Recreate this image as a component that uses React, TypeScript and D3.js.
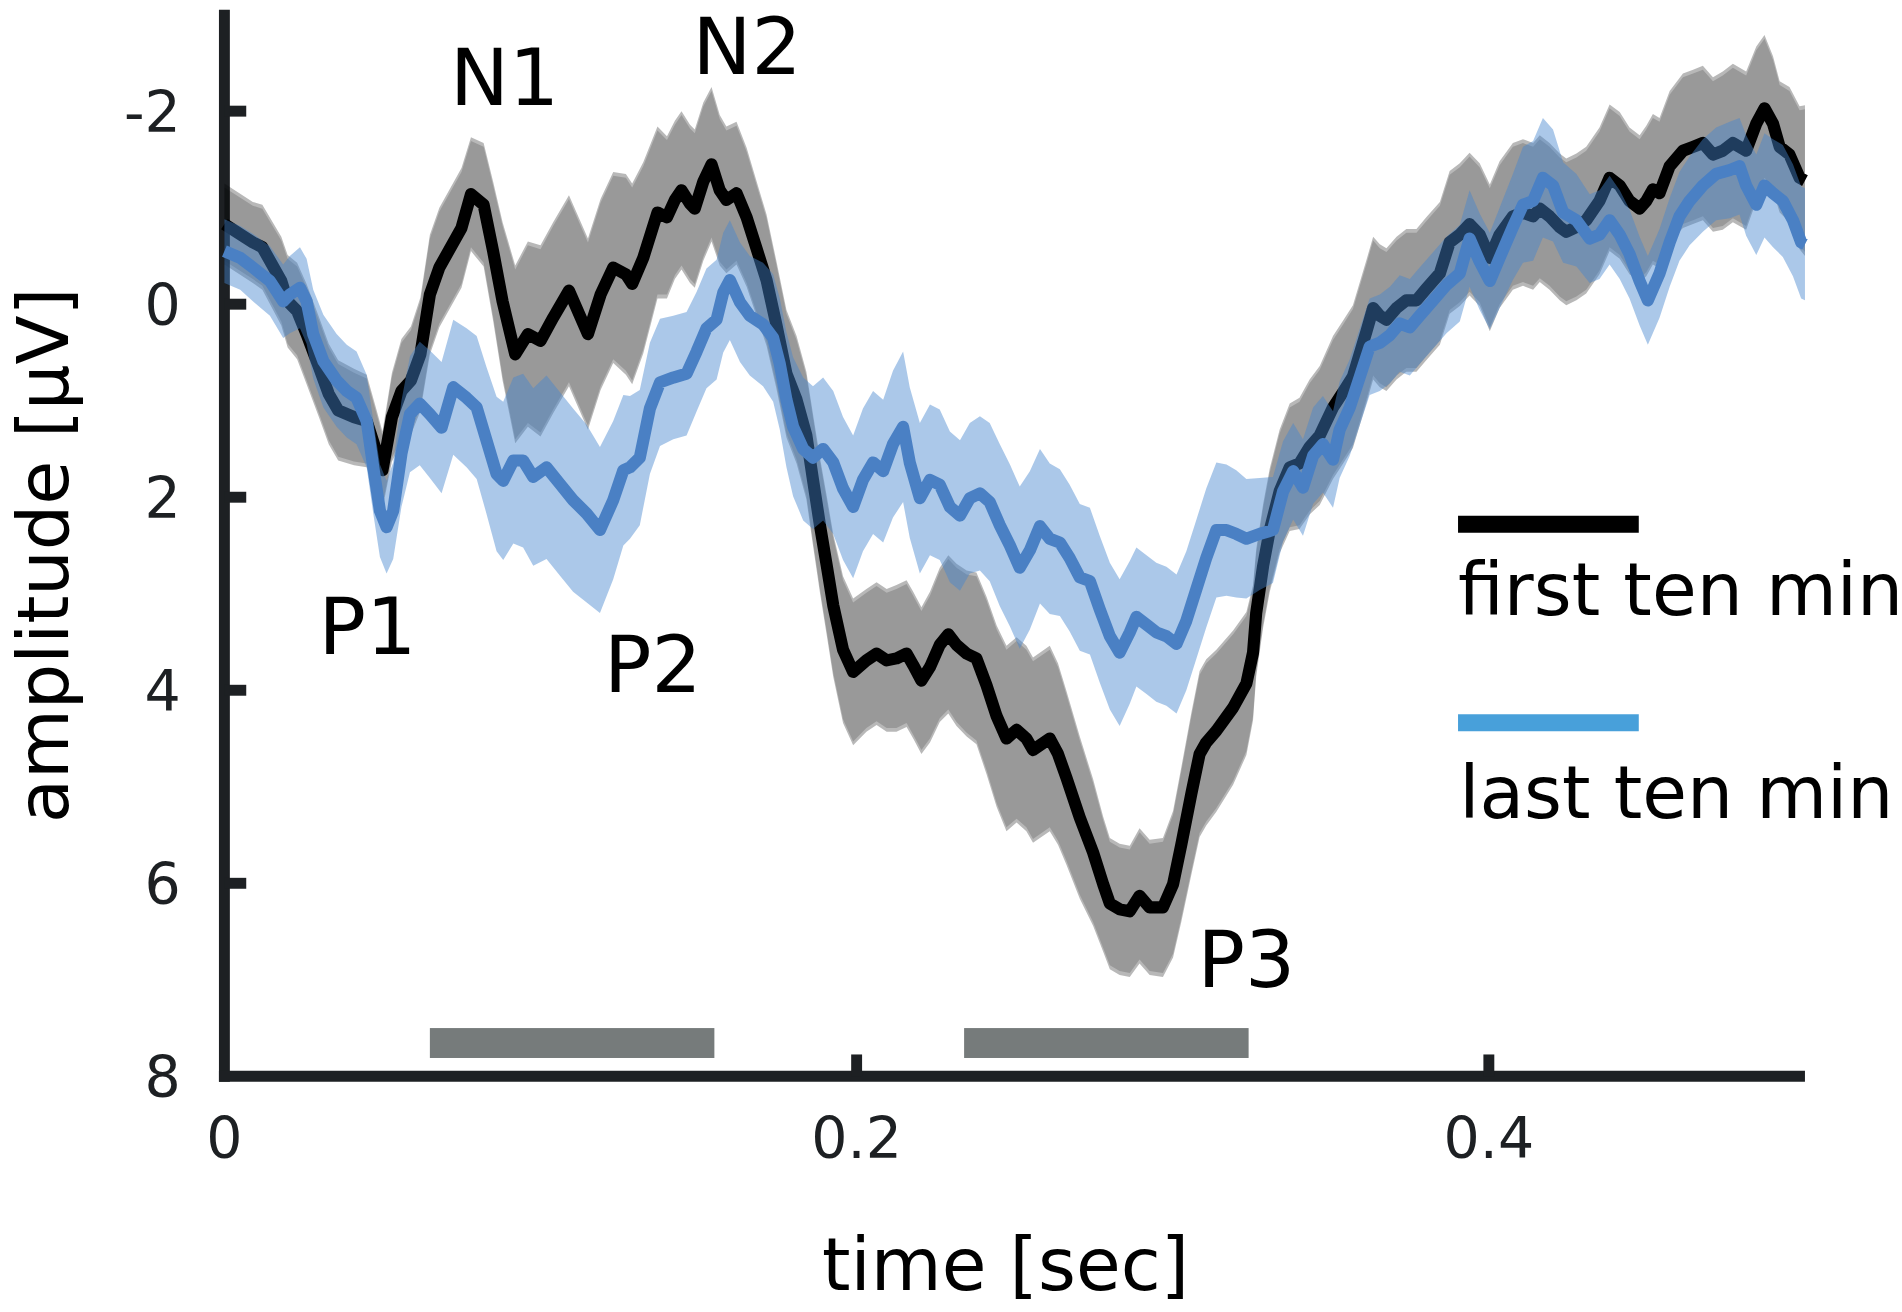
import { FC, useMemo } from "react";
import * as d3 from "d3";

// ---- data (time in s, amplitude in µV, positive down) ----
const firstTime = [
  0, 0.009, 0.012, 0.018, 0.02, 0.023, 0.026, 0.03, 0.033, 0.036, 0.041, 0.045, 0.048, 0.05, 0.053, 0.056, 0.059,
  0.062, 0.065, 0.068, 0.075, 0.078, 0.082, 0.085, 0.088, 0.092, 0.096, 0.1, 0.104, 0.109, 0.115, 0.119, 0.123,
  0.127, 0.129, 0.1325, 0.137, 0.14, 0.1425, 0.1446, 0.1473, 0.1488, 0.1515, 0.1541, 0.1567, 0.1588, 0.162, 0.1652,
  0.1683, 0.1715, 0.1746, 0.1778, 0.181, 0.1841, 0.1862, 0.1884, 0.1905, 0.1926, 0.1957, 0.1989, 0.2031, 0.2063,
  0.2095, 0.2126, 0.2158, 0.2179, 0.2205, 0.2232, 0.2263, 0.229, 0.2316, 0.2348, 0.2379, 0.2411, 0.2443, 0.2474,
  0.2506, 0.2537, 0.2558, 0.2611, 0.2637, 0.2664, 0.2706, 0.2748, 0.278, 0.2801, 0.2832, 0.2864, 0.2895, 0.2927,
  0.2969, 0.3001, 0.3027, 0.3059, 0.3085, 0.3106, 0.3138, 0.3191, 0.3233, 0.3254, 0.3264, 0.3286, 0.3307, 0.3338,
  0.337, 0.3401, 0.3433, 0.3465, 0.3507, 0.3539, 0.357, 0.3613, 0.3634, 0.3655, 0.3676, 0.3708, 0.3739, 0.3771,
  0.3802, 0.3845, 0.3876, 0.3908, 0.3939, 0.3971, 0.4003, 0.4034, 0.4076, 0.4108, 0.414, 0.4161, 0.4192, 0.4224,
  0.4245, 0.4277, 0.4308, 0.435, 0.4382, 0.4414, 0.4445, 0.4477, 0.4498, 0.4519, 0.454, 0.4572, 0.4614, 0.4646,
  0.4677, 0.4709, 0.474, 0.4772, 0.4814, 0.4846, 0.4872, 0.4899, 0.492, 0.4951, 0.4983, 0.5,
];
const firstMean = [
  -0.83, -0.64, -0.59, -0.24, -0.03, 0.07, 0.31, 0.66, 0.93, 1.1, 1.17, 1.21, 1.52, 1.72, 1.17, 0.9, 0.79, 0.52,
  -0.1, -0.38, -0.79, -1.14, -1.03, -0.55, -0.03, 0.52, 0.31, 0.38, 0.14, -0.14, 0.31, -0.1, -0.38, -0.31, -0.21,
  -0.48, -0.95, -0.9, -1.08, -1.18, -1.04, -0.99, -1.27, -1.45, -1.18, -1.08, -1.15, -0.9, -0.58, -0.25, 0.21, 0.72,
  0.99, 1.36, 1.82, 2.29, 2.7, 3.12, 3.58, 3.81, 3.69, 3.62, 3.69, 3.67, 3.62, 3.74, 3.9, 3.76, 3.53, 3.42, 3.53,
  3.62, 3.67, 3.95, 4.27, 4.5, 4.41, 4.5, 4.62, 4.5, 4.66, 4.91, 5.32, 5.68, 6.01, 6.21, 6.27, 6.29, 6.13, 6.25,
  6.25, 6.01, 5.6, 5.07, 4.66, 4.54, 4.42, 4.18, 3.93, 3.61, 3.2, 2.71, 2.34, 1.94, 1.69, 1.65, 1.48, 1.36, 1.07,
  0.91, 0.75, 0.28, 0.04, 0.12, 0.16, 0.04, -0.04, -0.04, -0.16, -0.32, -0.64, -0.72, -0.83, -0.72, -0.48, -0.72,
  -0.91, -0.95, -0.91, -0.99, -0.91, -0.8, -0.75, -0.8, -0.87, -1.07, -1.31, -1.23, -1.07, -0.99, -1.07, -1.19,
  -1.15, -1.43, -1.59, -1.63, -1.67, -1.55, -1.59, -1.67, -1.59, -1.87, -2.03, -1.87, -1.63, -1.55, -1.31, -1.28,
];
const firstSem = [
  0.38, 0.38, 0.4, 0.42, 0.44, 0.46, 0.48, 0.48, 0.48, 0.48, 0.46, 0.44, 0.4, 0.36, 0.42, 0.5, 0.52, 0.55, 0.58,
  0.58, 0.58, 0.55, 0.6, 0.68, 0.78, 0.88, 0.92, 0.95, 0.95, 0.95, 0.95, 0.95, 0.95, 1.0, 1.0, 0.95, 0.85, 0.8,
  0.78, 0.78, 0.78, 0.78, 0.78, 0.76, 0.74, 0.72, 0.7, 0.68, 0.66, 0.64, 0.62, 0.62, 0.62, 0.62, 0.64, 0.66, 0.68,
  0.7, 0.72, 0.72, 0.7, 0.7, 0.7, 0.72, 0.72, 0.72, 0.72, 0.74, 0.76, 0.78, 0.8, 0.82, 0.85, 0.88, 0.9, 0.92,
  0.92, 0.92, 0.92, 0.92, 0.9, 0.86, 0.8, 0.72, 0.66, 0.64, 0.64, 0.64, 0.66, 0.66, 0.68, 0.72, 0.76, 0.8, 0.82,
  0.82, 0.8, 0.76, 0.7, 0.66, 0.62, 0.6, 0.6, 0.6, 0.62, 0.64, 0.66, 0.68, 0.7, 0.7, 0.7, 0.7, 0.7, 0.7, 0.7, 0.7,
  0.7, 0.7, 0.7, 0.7, 0.7, 0.7, 0.7, 0.7, 0.72, 0.72, 0.72, 0.72, 0.72, 0.72, 0.72, 0.72, 0.72, 0.72, 0.72, 0.72,
  0.72, 0.72, 0.72, 0.72, 0.74, 0.74, 0.74, 0.74, 0.76, 0.76, 0.76, 0.76, 0.78, 0.78, 0.78, 0.76, 0.72, 0.66,
  0.64, 0.66, 0.7, 0.74, 0.74,
];

const lastTime = [
  0, 0.005, 0.009, 0.0144, 0.0186, 0.0207, 0.0239, 0.026, 0.0281, 0.0313, 0.0355, 0.0387, 0.0418, 0.045, 0.0471,
  0.0492, 0.0513, 0.0534, 0.056, 0.0587, 0.0618, 0.065, 0.0687, 0.0724, 0.0766, 0.0798, 0.0829, 0.0861, 0.0882,
  0.0914, 0.0945, 0.0977, 0.1019, 0.1061, 0.1103, 0.1146, 0.1188, 0.123, 0.1262, 0.1283, 0.1314, 0.1346, 0.1378,
  0.142, 0.1462, 0.1494, 0.1525, 0.1557, 0.1578, 0.1599, 0.1631, 0.1662, 0.1704, 0.1736, 0.1757, 0.1778, 0.1799,
  0.1831, 0.1862, 0.1894, 0.1926, 0.1957, 0.1989, 0.202, 0.2052, 0.2084, 0.2115, 0.2147, 0.2168, 0.22, 0.2232,
  0.2263, 0.2295, 0.2327, 0.2358, 0.239, 0.2421, 0.2453, 0.2485, 0.2516, 0.2548, 0.258, 0.2611, 0.2643, 0.2674,
  0.2706, 0.2738, 0.2769, 0.2801, 0.2832, 0.2864, 0.2885, 0.2917, 0.2948, 0.298, 0.3012, 0.3043, 0.3075, 0.3106,
  0.3138, 0.317, 0.3201, 0.3233, 0.3275, 0.3317, 0.3349, 0.3381, 0.3412, 0.3444, 0.3475, 0.3507, 0.3528, 0.356,
  0.3592, 0.3623, 0.3655, 0.3687, 0.3718, 0.375, 0.3781, 0.3824, 0.3866, 0.3908, 0.3939, 0.3971, 0.4003, 0.4034,
  0.4076, 0.4108, 0.414, 0.4171, 0.4203, 0.4235, 0.4277, 0.4319, 0.435, 0.4382, 0.4414, 0.4445, 0.4477, 0.4503,
  0.454, 0.4572, 0.4603, 0.4635, 0.4677, 0.4719, 0.4762, 0.4793, 0.4814, 0.4846, 0.4872, 0.4899, 0.493, 0.4962,
  0.4988, 0.5,
];
const lastMean = [
  -0.55, -0.48, -0.38, -0.24, -0.03, -0.1, -0.17, -0.03, 0.31, 0.59, 0.79, 0.9, 0.97, 1.21, 1.69, 2.14, 2.31,
  2.14, 1.55, 1.14, 1.03, 1.14, 1.28, 0.86, 0.97, 1.07, 1.41, 1.76, 1.83, 1.62, 1.62, 1.79, 1.69, 1.86, 2.03,
  2.17, 2.34, 2.03, 1.72, 1.69, 1.59, 1.08, 0.81, 0.76, 0.72, 0.49, 0.25, 0.16, -0.12, -0.25, -0.02, 0.12, 0.21,
  0.35, 0.62, 0.99, 1.27, 1.5, 1.59, 1.5, 1.64, 1.91, 2.1, 1.82, 1.64, 1.73, 1.45, 1.27, 1.64, 2.01, 1.82, 1.87,
  2.1, 2.19, 2.01, 1.96, 2.05, 2.29, 2.5, 2.73, 2.55, 2.3, 2.43, 2.47, 2.63, 2.83, 2.87, 3.16, 3.44, 3.61, 3.4,
  3.24, 3.32, 3.4, 3.44, 3.52, 3.28, 2.95, 2.63, 2.34, 2.34, 2.38, 2.43, 2.38, 2.34, 1.94, 1.73, 1.9, 1.57, 1.45,
  1.61, 1.3, 1.07, 0.75, 0.44, 0.4, 0.32, 0.2, 0.24, 0.12, -0.04, -0.2, -0.32, -0.68, -0.44, -0.24, -0.48, -0.8,
  -1.03, -1.07, -1.31, -1.23, -0.95, -0.87, -0.68, -0.72, -0.87, -0.72, -0.52, -0.24, -0.04, -0.32, -0.64, -0.91,
  -1.07, -1.23, -1.35, -1.39, -1.43, -1.23, -1.03, -1.23, -1.15, -1.07, -0.87, -0.64, -0.62,
];
const lastSem = [
  0.33, 0.33, 0.35, 0.36, 0.38, 0.4, 0.42, 0.44, 0.46, 0.48, 0.48, 0.48, 0.48, 0.48, 0.48, 0.48, 0.48, 0.5, 0.55,
  0.6, 0.64, 0.66, 0.68, 0.7, 0.72, 0.74, 0.76, 0.8, 0.82, 0.86, 0.9, 0.92, 0.95, 0.95, 0.95, 0.92, 0.86, 0.82,
  0.78, 0.74, 0.7, 0.68, 0.66, 0.64, 0.64, 0.62, 0.62, 0.62, 0.62, 0.62, 0.62, 0.62, 0.64, 0.66, 0.68, 0.7, 0.72,
  0.74, 0.74, 0.74, 0.74, 0.74, 0.74, 0.74, 0.74, 0.74, 0.76, 0.78, 0.78, 0.78, 0.78, 0.78, 0.78, 0.78, 0.78,
  0.8, 0.82, 0.84, 0.84, 0.84, 0.82, 0.8, 0.78, 0.76, 0.76, 0.76, 0.76, 0.76, 0.76, 0.76, 0.74, 0.72, 0.72, 0.72,
  0.72, 0.72, 0.72, 0.72, 0.72, 0.7, 0.68, 0.66, 0.62, 0.58, 0.55, 0.52, 0.5, 0.5, 0.5, 0.5, 0.5, 0.5, 0.5, 0.5,
  0.5, 0.5, 0.5, 0.5, 0.5, 0.5, 0.5, 0.5, 0.5, 0.5, 0.5, 0.5, 0.52, 0.55, 0.6, 0.62, 0.62, 0.58, 0.52, 0.48, 0.46,
  0.46, 0.46, 0.46, 0.46, 0.46, 0.46, 0.46, 0.46, 0.46, 0.46, 0.48, 0.48, 0.5, 0.5, 0.52, 0.52, 0.54, 0.56, 0.58,
  0.58, 0.58, 0.58,
];

// significant time windows (s)
const sigStart = [0.065, 0.234];
const sigEnd = [0.155, 0.324];

const xTicks = [0, 0.2, 0.4];
const yTicks = [-2, 0, 2, 4, 6, 8];
const seriesNames = ["first ten min", "last ten min"];
const peakNames = ["N1", "N2", "P1", "P2", "P3"];

// ---- layout (drawn in a 1568x1080 frame, scaled up to the window) ----
const VW = 1568;
const VH = 1080;
const FONT = "'DejaVu Sans', Verdana, sans-serif";
const AXIS = "#1d2023";
const BLUE = "#4a80c4";
const BLUE_BAND = "#4485ce";
const BLUE_KEY = "#48a0da";
// label anchors in data units [time, amplitude]: left edge + baseline
const peakAt: [number, number][] = [
  [0.0714, -2.06],
  [0.1481, -2.38],
  [0.0298, 3.62],
  [0.1201, 4.02],
  [0.3078, 7.07],
];

type Pt = { t: number; v: number; s: number };

const App: FC = () => {
  const x = d3.scaleLinear().domain([0, 0.5]).range([185, 1488]);
  const y = d3.scaleLinear().domain([-2, 8]).range([91.5, 886]);

  const first: Pt[] = useMemo(
    () => firstTime.map((t, i) => ({ t, v: firstMean[i], s: firstSem[i] })),
    []
  );
  const last: Pt[] = useMemo(
    () => lastTime.map((t, i) => ({ t, v: lastMean[i], s: lastSem[i] })),
    []
  );

  const line = d3
    .line<Pt>()
    .x((d) => x(d.t))
    .y((d) => y(d.v));
  const band = (pad: number) =>
    d3
      .area<Pt>()
      .x((d) => x(d.t))
      .y0((d) => y(d.v - d.s - pad))
      .y1((d) => y(d.v + d.s + pad));

  return (
    <svg
      width={1902}
      height={1312}
      viewBox={`0 0 ${VW} ${VH}`}
      preserveAspectRatio="none"
      style={{ position: "absolute", left: 0, top: 0, background: "#fff" }}
      fontFamily={FONT}
    >
      <rect width={VW} height={VH} fill="#fff" />

      {/* significance bars */}
      {sigStart.map((s, i) => (
        <rect
          key={"sig" + i}
          x={x(s)}
          y={y(7.5)}
          width={x(sigEnd[i]) - x(s)}
          height={y(7.81) - y(7.5)}
          fill="#767b7b"
        />
      ))}

      {/* axes */}
      <line x1={x(0)} x2={x(0)} y1={8} y2={y(8) + 4.5} stroke={AXIS} strokeWidth={9} />
      <line x1={x(0) - 4.5} x2={x(0.5)} y1={y(8)} y2={y(8)} stroke={AXIS} strokeWidth={9} />
      {yTicks
        .filter((v) => v !== 8)
        .map((v) => (
          <line key={"yt" + v} x1={x(0)} x2={x(0) + 18} y1={y(v)} y2={y(v)} stroke={AXIS} strokeWidth={9} />
        ))}
      {xTicks
        .filter((t) => t !== 0)
        .map((t) => (
          <line key={"xt" + t} x1={x(t)} x2={x(t)} y1={y(8)} y2={y(8) - 18} stroke={AXIS} strokeWidth={9} />
        ))}
      {yTicks.map((v) => (
        <text key={"yl" + v} x={149} y={y(v) + 17} textAnchor="end" fontSize={47} fill={AXIS}>
          {v}
        </text>
      ))}
      {xTicks.map((t) => (
        <text key={"xl" + t} x={x(t)} y={953} textAnchor="middle" fontSize={47} fill={AXIS}>
          {t}
        </text>
      ))}
      <text x={829} y={1062} textAnchor="middle" fontSize={60} fill="#000">
        time [sec]
      </text>
      <text
        transform={`translate(56,457) rotate(-90)`}
        textAnchor="middle"
        fontSize={59}
        fill="#000"
      >
        amplitude [μV]
      </text>

      {/* first ten min: band + mean */}
      <path d={band(0.04)(first) ?? ""} fill="#000" fillOpacity={0.28} />
      <path d={band(0)(first) ?? ""} fill="#000" fillOpacity={0.17} />
      <path d={line(first) ?? ""} fill="none" stroke="#000" strokeWidth={10} strokeLinejoin="round" />

      {/* last ten min: band + mean */}
      <path d={band(0)(last) ?? ""} fill={BLUE_BAND} fillOpacity={0.45} />
      <path d={line(last) ?? ""} fill="none" stroke={BLUE} strokeWidth={10} strokeLinejoin="round" />

      {/* component labels */}
      {peakNames.map((n, i) => (
        <text key={n} x={x(peakAt[i][0])} y={y(peakAt[i][1])} fontSize={65} fill="#000">
          {n}
        </text>
      ))}

      {/* legend */}
      <line x1={1202} x2={1351} y1={431.5} y2={431.5} stroke="#000" strokeWidth={14} />
      <text x={1202} y={506} fontSize={60} fill="#000">
        {seriesNames[0]}
      </text>
      <line x1={1202} x2={1351} y1={595} y2={595} stroke={BLUE_KEY} strokeWidth={14} />
      <text x={1203} y={673} fontSize={60} fill="#000">
        {seriesNames[1]}
      </text>
    </svg>
  );
};

export default App;
